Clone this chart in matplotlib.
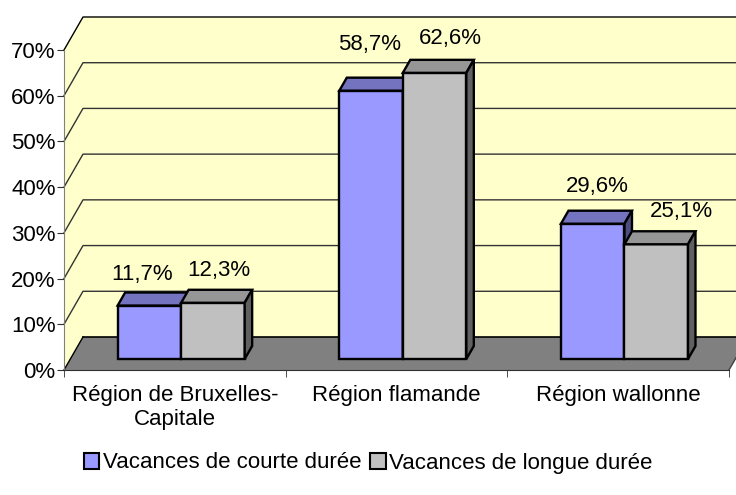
import matplotlib
matplotlib.use("Agg")
from matplotlib import pyplot as plt
from matplotlib.patches import Polygon

plt.rcParams["font.family"] = ["Liberation Sans", "DejaVu Sans"]
plt.rcParams["font.size"] = 16

# data
categories = ["Région de Bruxelles-\nCapitale", "Région flamande", "Région wallonne"]
series_names = ["Vacances de courte durée", "Vacances de longue durée"]
courte = [11.7, 58.7, 29.6]
longue = [12.3, 62.6, 25.1]
value_labels_courte = ["11,7%", "58,7%", "29,6%"]
value_labels_longue = ["12,3%", "62,6%", "25,1%"]
y_ticks = [0, 10, 20, 30, 40, 50, 60, 70]

# colours: front, top, side
BLUE = ("#9999FF", "#7373BF", "#4D4D80")
GREY = ("#C0C0C0", "#969696", "#606060")
WALL = "#FFFFCC"
FLOOR = "#808080"

# fake 3d: depth offset in data units
DX = 0.0857   # category units per full depth
DY = 7.22     # percent units per full depth
Z0, Z1 = 0.333, 0.727   # bar depth span
BAR_W = 0.2865


def proj(x, v, z):
    return (x + z * DX, v + z * DY)


def draw_bar(ax, x0, val, cols):
    front, top, side = cols
    x1 = x0 + BAR_W
    faces = [
        ([proj(x0, 0, Z0), proj(x1, 0, Z0), proj(x1, val, Z0), proj(x0, val, Z0)], front),
        ([proj(x0, val, Z0), proj(x1, val, Z0), proj(x1, val, Z1), proj(x0, val, Z1)], top),
        ([proj(x1, 0, Z0), proj(x1, 0, Z1), proj(x1, val, Z1), proj(x1, val, Z0)], side),
    ]
    for pts, c in faces:
        ax.add_patch(Polygon(pts, closed=True, facecolor=c, edgecolor="black",
                             lw=1.7, joinstyle="miter", clip_on=False, zorder=5))


fig = plt.figure(figsize=(7.36, 4.95), dpi=100)
ax = fig.add_axes([64 / 736, 125 / 495, 665 / 736, 320 / 495])
ax.set_xlim(0, 3)
ax.set_ylim(0, 70)
n = len(categories)
top = y_ticks[-1]

# back + left wall
wall = [proj(0, 0, 0), proj(0, top, 0), proj(0, top, 1), proj(n + 0.2, top, 1),
        proj(n + 0.2, 0, 1), proj(0, 0, 1)]
ax.add_patch(Polygon(wall, closed=True, facecolor=WALL, edgecolor="none",
                     clip_on=False, zorder=0))
# floor
floor = [proj(0, 0, 0), proj(n, 0, 0), proj(n, 0, 1), proj(n + 0.2, 0, 1), proj(0, 0, 1)]
ax.add_patch(Polygon(floor, closed=True, facecolor=FLOOR, edgecolor="none",
                     clip_on=False, zorder=1))
ax.plot(*zip(proj(0, 0, 1), proj(n + 0.2, 0, 1)), color="black", lw=1.2, clip_on=False, zorder=2)
ax.plot(*zip(proj(0, 0, 0), proj(0, 0, 1)), color="black", lw=1.0, clip_on=False, zorder=2)
ax.plot(*zip(proj(n, 0, 0), proj(n, 0, 1)), color="#404040", lw=1.0, clip_on=False, zorder=2)

# gridlines on walls
for v in y_ticks[1:]:
    pts = [proj(0, v, 0), proj(0, v, 1), proj(n + 0.2, v, 1)]
    ax.plot(*zip(*pts), color="black" if v == top else "#333333",
            lw=1.0, clip_on=False, zorder=2)

# bars
for i in range(n):
    draw_bar(ax, i + 0.5 - BAR_W, courte[i], BLUE)
    draw_bar(ax, i + 0.5, longue[i], GREY)
    cx_b = i + 0.5 - BAR_W / 2
    cx_g = i + 0.5 + BAR_W / 2
    ax.text(1.026 * cx_b - 0.014, courte[i] * 1.073 + 8.3, value_labels_courte[i],
            ha="center", va="center", zorder=6)
    ax.text(1.043 * cx_g + 0.029, longue[i] * 1.013 + 9.2, value_labels_longue[i],
            ha="center", va="center", zorder=6)

# axes styling
for s in ["top", "right"]:
    ax.spines[s].set_visible(False)
ax.spines["left"].set_color("#808080")
ax.spines["bottom"].set_color("#303030")
ax.spines["left"].set_zorder(3)
ax.spines["bottom"].set_zorder(3)
ax.patch.set_visible(False)

ax.set_yticks(y_ticks)
ax.set_yticklabels([f"{t}%" for t in y_ticks])
ax.tick_params(axis="y", length=5, color="#303030", pad=1)
ax.set_xticks([i + 0.5 for i in range(n)])
ax.set_xticklabels(categories)
ax.set_xticks(range(n + 1), minor=True)
ax.tick_params(axis="x", which="major", length=0, pad=11)
ax.tick_params(axis="x", which="minor", length=5, color="#303030")

# legend
handles = [Polygon([[0, 0]], facecolor=BLUE[0], edgecolor="black", lw=1.5),
           Polygon([[0, 0]], facecolor=GREY[0], edgecolor="black", lw=1.5)]
fig.legend(handles, series_names, loc="center", bbox_to_anchor=(0.5, 32 / 495), ncol=2,
           frameon=False, handlelength=0.7, handleheight=0.7, handletextpad=0.15,
           columnspacing=0.4, borderpad=0)

fig.savefig("out.png", dpi=100)
